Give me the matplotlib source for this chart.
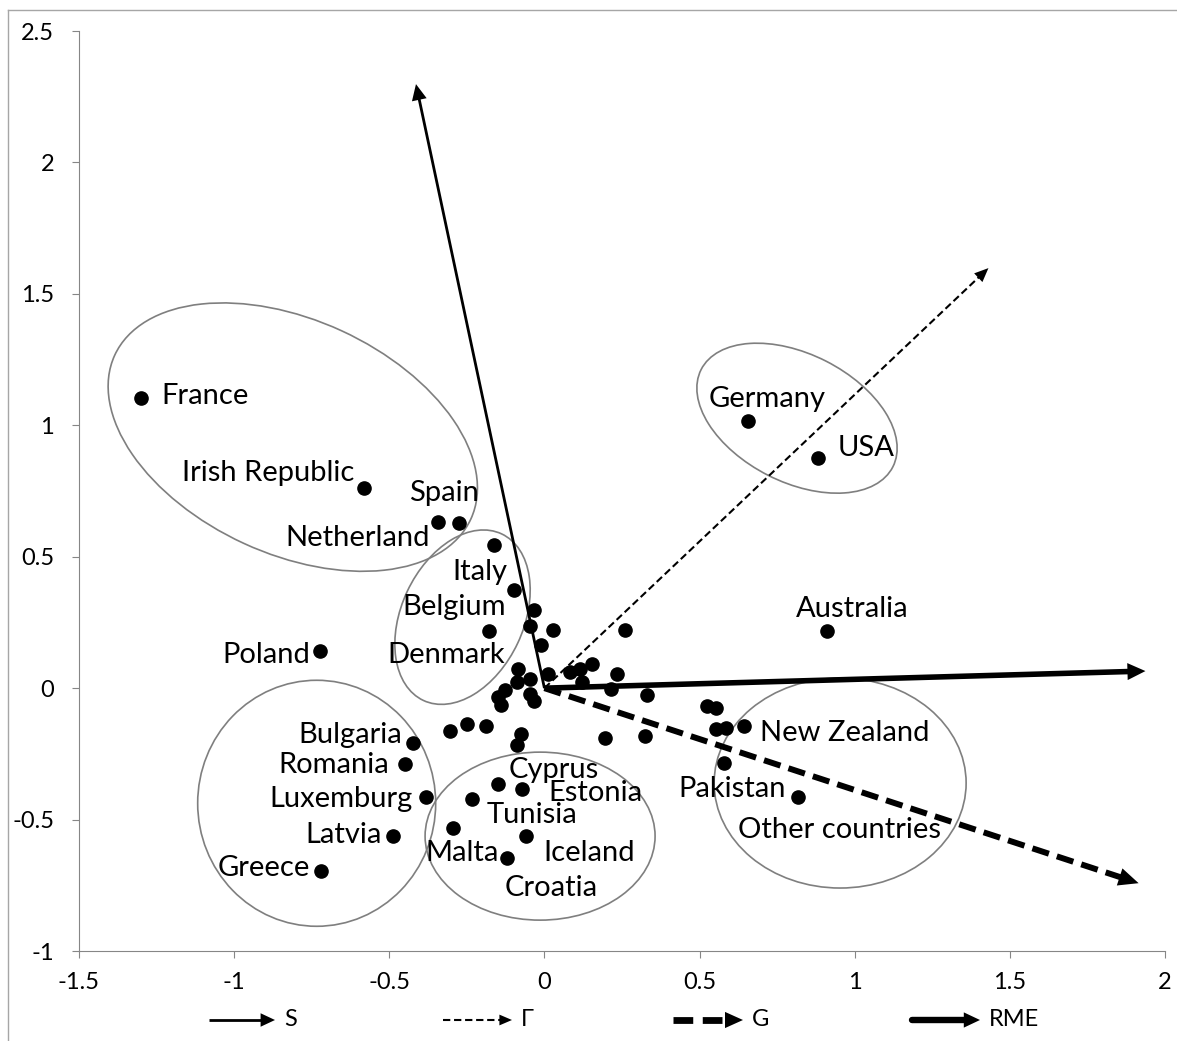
import numpy as np
import matplotlib
matplotlib.use('Agg')
import matplotlib.pyplot as plt
from matplotlib.patches import Ellipse, Polygon
from matplotlib.lines import Line2D
from matplotlib.transforms import ScaledTranslation

plt.rcParams['font.family'] = ['Lato', 'DejaVu Sans']

# country scores
pts_x = [-1.299, -0.583, -0.343, -0.275, -0.162, -0.097, -0.032, -0.178, -0.048, 0.027,
         0.260, -0.010, -0.086, 0.011, -0.048, -0.088, 0.081, 0.114, 0.152, 0.235,
         0.122, 0.216, 0.330, -0.126, -0.151, -0.140, -0.048, -0.035, -0.304, -0.248,
         -0.187, -0.075, -0.088, 0.195, 0.324, -0.423, -0.448, -0.383, -0.489, -0.721,
         -0.149, -0.072, -0.234, -0.295, -0.061, -0.121, 0.524, 0.553, 0.553, 0.584,
         0.643, 0.580, 0.817, -0.722, 0.655, 0.882, 0.911]
pts_y = [1.105, 0.760, 0.631, 0.627, 0.543, 0.372, 0.299, 0.216, 0.235, 0.223,
         0.220, 0.163, 0.074, 0.055, 0.034, 0.024, 0.062, 0.074, 0.090, 0.054,
         0.024, -0.002, -0.027, -0.008, -0.033, -0.065, -0.021, -0.049, -0.163, -0.135,
         -0.145, -0.175, -0.217, -0.188, -0.183, -0.207, -0.287, -0.413, -0.562, -0.695,
         -0.366, -0.385, -0.423, -0.531, -0.562, -0.648, -0.069, -0.074, -0.157, -0.151,
         -0.144, -0.283, -0.415, 0.140, 1.018, 0.874, 0.216]

# country labels
lab_names = ['France', 'Irish Republic', 'Spain', 'Netherland', 'Italy', 'Belgium',
             'Denmark', 'Poland', 'Germany', 'USA', 'Australia', 'New Zealand',
             'Pakistan', 'Other countries', 'Bulgaria', 'Romania', 'Luxemburg',
             'Latvia', 'Greece', 'Cyprus', 'Estonia', 'Tunisia', 'Malta', 'Iceland',
             'Croatia']
lab_x = [-1.236, -0.611, -0.211, -0.369, -0.118, -0.124, -0.127, -0.756, 0.718, 0.944,
         0.992, 0.695, 0.779, 0.624, -0.459, -0.502, -0.424, -0.524, -0.756, -0.117,
         0.012, -0.185, -0.146, -0.005, -0.127]
lab_y = [1.111, 0.818, 0.742, 0.571, 0.441, 0.308, 0.126, 0.126, 1.100, 0.913,
         0.301, -0.171, -0.384, -0.540, -0.179, -0.293, -0.422, -0.559, -0.685, -0.312,
         -0.400, -0.483, -0.628, -0.628, -0.761]
lab_ha = ['left', 'right', 'right', 'right', 'right', 'right', 'right', 'right', 'center',
          'left', 'center', 'left', 'right', 'left', 'right', 'right', 'right', 'right',
          'right', 'left', 'left', 'left', 'right', 'left', 'left']

# loading vectors
vec_names = ['S', 'Γ', 'G', 'RME']
vec_x = [-0.414, 1.431, 1.915, 1.937]
vec_y = [2.298, 1.598, -0.742, 0.065]

# group ellipses: centre in data units, size in pixels
ell_x = [-0.811, -0.264, 0.814, -0.734, -0.014, 0.953]
ell_y = [0.955, 0.270, 1.027, -0.438, -0.563, -0.361]
ell_w = [392, 184, 215, 238, 230, 252]
ell_h = [234, 122, 128, 246, 168, 210]
ell_a = [-24.7, 64.8, -26.9, 0, 0, 0]

W, H = 1177, 1041
fig = plt.figure(figsize=(W / 100, H / 100), dpi=100)
ax = fig.add_axes([79 / W, 1 - 951 / H, (1165 - 79) / W, (951 - 31) / H])
ax.set_xlim(-1.5, 2)
ax.set_ylim(-1, 2.5)

gray = '#868686'
for s in ['top', 'right']:
    ax.spines[s].set_visible(False)
for s in ['left', 'bottom']:
    ax.spines[s].set_color(gray)
ax.set_xticks(np.arange(-1.5, 2.01, 0.5))
ax.set_yticks(np.arange(-1, 2.51, 0.5))
ax.xaxis.set_major_formatter(plt.FormatStrFormatter('%g'))
ax.yaxis.set_major_formatter(plt.FormatStrFormatter('%g'))
ax.tick_params(direction='out', length=5, color=gray, labelsize=17)
ax.tick_params(axis='x', pad=10)
ax.tick_params(axis='y', pad=13)

# outer frame
fig.add_artist(Line2D([8 / W, 8 / W], [0, 1 - 10 / H], color='#a6a6a6', lw=1))
fig.add_artist(Line2D([8 / W, 1], [1 - 10 / H, 1 - 10 / H], color='#a6a6a6', lw=1))

for cx, cy, w, h, a in zip(ell_x, ell_y, ell_w, ell_h, ell_a):
    e = Ellipse((0, 0), w, h, angle=a, fill=False, ec='#7f7f7f', lw=1.2,
                transform=ScaledTranslation(cx, cy, ax.transData), clip_on=False)
    ax.add_patch(e)

ax.plot(pts_x, pts_y, 'o', color='black', ms=9.5, zorder=4)

for name, x, y, ha in zip(lab_names, lab_x, lab_y, lab_ha):
    ax.text(x, y, name, ha=ha, va='center', fontsize=21, zorder=5)

styles = [dict(lw=2.0, ls='-', hl=16, hw=7.5),
          dict(lw=1.5, ls=(0, (3.5, 1.8)), hl=14, hw=6),
          dict(lw=4.3, ls=(0, (2.9, 1.4)), hl=20, hw=9),
          dict(lw=4.0, ls='-', hl=18, hw=8.5)]

inv = ax.transData.inverted()
for x, y, st in zip(vec_x, vec_y, styles):
    p0 = ax.transData.transform((0, 0))
    p1 = ax.transData.transform((x, y))
    u = (p1 - p0) / np.hypot(*(p1 - p0))
    n = np.array([-u[1], u[0]])
    base = p1 - u * st['hl']
    end = inv.transform(p1 - u * st['hl'] * 0.7)
    ax.plot([0, end[0]], [0, end[1]], color='black', lw=st['lw'], ls=st['ls'],
            solid_capstyle='butt', dash_capstyle='butt', zorder=3)
    tri = inv.transform([p1, base + n * st['hw'], base - n * st['hw']])
    ax.add_patch(Polygon(tri, closed=True, color='black', lw=0, zorder=3))

# legend along the bottom
leg_start = [209, 443, 673, 912]
leg_tip = [275, 512, 743, 980]
leg_y = 1020
for name, x0, x1, st in zip(vec_names, leg_start, leg_tip, styles):
    hl = st['hl'] * 0.9
    yy = 1 - leg_y / H
    fig.add_artist(Line2D([x0 / W, (x1 - hl * 0.7) / W], [yy, yy], color='black',
                          lw=st['lw'] + (0.6 if st['lw'] > 3 else 0), ls=st['ls'],
                          solid_capstyle='round' if name == 'RME' else 'butt',
                          dash_capstyle='butt'))
    hw = st['hw'] * 0.9
    fig.add_artist(Polygon([[x1 / W, yy], [(x1 - hl) / W, yy + hw / H],
                            [(x1 - hl) / W, yy - hw / H]], closed=True,
                           color='black', lw=0, transform=fig.transFigure))
    fig.text((x1 + 9) / W, yy, name, ha='left', va='center', fontsize=17)

fig.savefig('out.png', dpi=100)
